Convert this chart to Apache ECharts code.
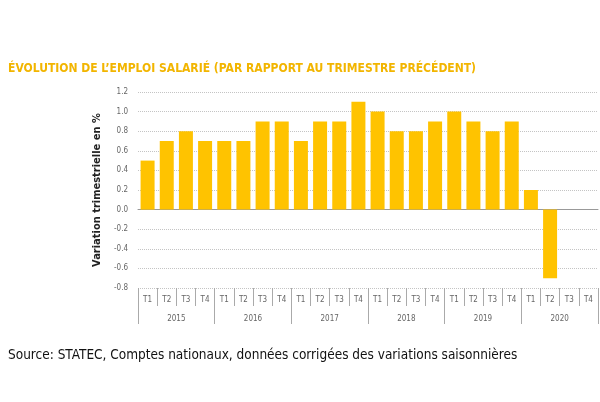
<!DOCTYPE html>
<html>
<head>
<meta charset="utf-8">
<script src="https://cdn.jsdelivr.net/npm/echarts@6/dist/echarts.min.js"></script>
<style>
  html, body { margin: 0; padding: 0; background: #fff; }
  #chart { width: 600px; height: 402px; }
</style>
</head>
<body>
<div id="chart"></div>
<script>
// quarterly employment change, % vs previous quarter
const quarters = ['T1', 'T2', 'T3', 'T4'];
const years = ['2015', '2016', '2017', '2018', '2019', '2020'];
const values = [
  0.5, 0.7, 0.8, 0.7,
  0.7, 0.7, 0.9, 0.9,
  0.7, 0.9, 0.9, 1.1,
  1.0, 0.8, 0.8, 0.9,
  1.0, 0.9, 0.8, 0.9,
  0.2, -0.7, null, null
];
const yTicks = { min: -0.8, max: 1.2, step: 0.2 };

const quarterLabels = [];
years.forEach(() => quarters.forEach(q => quarterLabels.push(q)));

const chart = echarts.init(document.getElementById('chart'));
const FONT = '"DejaVu Sans Condensed", Roboto, sans-serif';
const tickFont = { fontFamily: FONT, fontSize: 8, color: '#666' };

chart.setOption({
  animation: false,
  graphic: [
    {
      type: 'text', left: 8, top: 63,
      style: {
        text: 'ÉVOLUTION DE L\u2019EMPLOI SALARIÉ (PAR RAPPORT AU TRIMESTRE PRÉCÉDENT)',
        font: 'bold 12px ' + FONT, fill: '#F2B500'
      }
    },
    {
      type: 'text', left: 8, top: 348,
      style: {
        text: 'Source: STATEC, Comptes nationaux, données corrigées des variations saisonnières',
        font: '13.5px ' + FONT, fill: '#111'
      }
    }
  ],
  grid: { left: 138, right: 2, top: 92, bottom: 114 },
  xAxis: [
    {
      type: 'category', data: quarterLabels,
      axisLine: { onZero: true, lineStyle: { color: '#999' } },
      axisTick: { length: 4, lineStyle: { color: '#999' } },
      axisLabel: { show: false }
    },
    {
      type: 'category', data: quarterLabels, position: 'bottom',
      axisLine: { show: false, onZero: false },
      axisTick: { show: true, length: 18, interval: 0, lineStyle: { color: '#aaa' } },
      axisLabel: Object.assign({ margin: 8, interval: 0 }, tickFont)
    },
    {
      type: 'category', data: years, position: 'bottom',
      axisLine: { show: false, onZero: false },
      axisTick: { show: true, length: 36, interval: 0, lineStyle: { color: '#aaa' } },
      axisLabel: Object.assign({ margin: 27, interval: 0 }, tickFont)
    }
  ],
  yAxis: {
    type: 'value', min: yTicks.min, max: yTicks.max, interval: yTicks.step,
    name: 'Variation trimestrielle en %', nameLocation: 'middle', nameGap: 35,
    nameTextStyle: { fontFamily: FONT, fontWeight: 'bold', fontSize: 11, color: '#222' },
    axisLine: { show: false }, axisTick: { show: false },
    axisLabel: Object.assign({ margin: 10, formatter: v => v.toFixed(1) }, tickFont),
    splitLine: { lineStyle: { color: '#c4c4c4', type: [1, 1] } }
  },
  series: [{
    type: 'bar', data: values, xAxisIndex: 0,
    barCategoryGap: '27%',
    itemStyle: { color: '#FFC300' }
  }]
});
</script>
</body>
</html>
